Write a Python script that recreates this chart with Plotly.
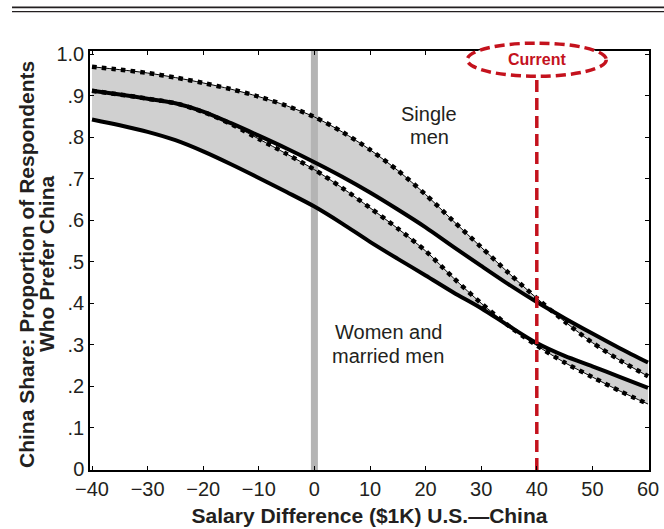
import plotly.graph_objects as go

# ---- data ----
salary_diff = [-40, -35, -30, -25, -20, -15, -10, -5, 0, 5, 10, 15, 20, 25, 30, 35, 40, 45, 50, 55, 60]
single_upper = [0.970, 0.963, 0.955, 0.944, 0.931, 0.916, 0.898, 0.876, 0.849, 0.813, 0.770, 0.720, 0.662, 0.598, 0.535, 0.472, 0.412, 0.356, 0.305, 0.262, 0.224]
single_lower = [0.912, 0.903, 0.893, 0.882, 0.862, 0.834, 0.804, 0.773, 0.740, 0.705, 0.667, 0.626, 0.583, 0.536, 0.490, 0.445, 0.403, 0.364, 0.327, 0.291, 0.257]
women_upper = [0.912, 0.903, 0.893, 0.882, 0.861, 0.832, 0.796, 0.760, 0.722, 0.678, 0.630, 0.580, 0.526, 0.461, 0.400, 0.345, 0.298, 0.257, 0.222, 0.188, 0.157]
women_lower = [0.843, 0.829, 0.813, 0.793, 0.766, 0.735, 0.702, 0.668, 0.633, 0.592, 0.548, 0.507, 0.467, 0.426, 0.388, 0.345, 0.304, 0.273, 0.248, 0.222, 0.196]

x_ticks = [-40, -30, -20, -10, 0, 10, 20, 30, 40, 50, 60]
x_tick_text = ["\u221240", "\u221230", "\u221220", "\u221210", "0", "10", "20", "30", "40", "50", "60"]
y_ticks = [0, 0.1, 0.2, 0.3, 0.4, 0.5, 0.6, 0.7, 0.8, 0.9, 1.0]
y_tick_text = ["0", ".1", ".2", ".3", ".4", ".5", ".6", ".7", ".8", ".9", "1.0"]

parity_x = 0
current_x = 40
current_top = 0.946

X_RANGE = [-40.36, 60.18]
Y_RANGE = [-0.002, 1.008]

FILL = "#d0d0d0"
RED = "#c4121d"
TXT = "#231f20"
SH = "spline"
SM = 0.8

fig = go.Figure()

# fills
fig.add_trace(go.Scatter(x=salary_diff, y=single_lower, mode="lines", line=dict(width=0, shape=SH, smoothing=SM), hoverinfo="skip"))
fig.add_trace(go.Scatter(x=salary_diff, y=single_upper, mode="lines", line=dict(width=0, shape=SH, smoothing=SM), fill="tonexty", fillcolor=FILL, hoverinfo="skip"))
fig.add_trace(go.Scatter(x=salary_diff, y=women_lower, mode="lines", line=dict(width=0, shape=SH, smoothing=SM), hoverinfo="skip"))
fig.add_trace(go.Scatter(x=salary_diff, y=women_upper, mode="lines", line=dict(width=0, shape=SH, smoothing=SM), fill="tonexty", fillcolor=FILL, hoverinfo="skip"))

# grey vertical at zero
fig.add_trace(go.Scatter(x=[parity_x, parity_x], y=Y_RANGE, mode="lines", line=dict(color="#b4b4b4", width=7), hoverinfo="skip"))

# solid lines
for ys in (single_lower, women_lower):
    fig.add_trace(go.Scatter(x=salary_diff, y=ys, mode="lines", line=dict(color="black", width=4, shape=SH, smoothing=SM), hoverinfo="skip"))
# dotted lines
for ys in (single_upper, women_upper):
    fig.add_trace(go.Scatter(x=salary_diff, y=ys, mode="lines", line=dict(color="black", width=1, shape=SH, smoothing=SM), hoverinfo="skip"))
    fig.add_trace(go.Scatter(x=salary_diff, y=ys, mode="lines", line=dict(color="black", width=4.5, dash="4.5px,5.2px", shape=SH, smoothing=SM), hoverinfo="skip"))

# red current line
fig.add_trace(go.Scatter(x=[current_x, current_x], y=[Y_RANGE[0], current_top], mode="lines", line=dict(color=RED, width=3.5, dash="12px,6px"), hoverinfo="skip"))

def px_paper(v):
    return (v - X_RANGE[0]) / (X_RANGE[1] - X_RANGE[0])

def py_paper(v):
    return (v - Y_RANGE[0]) / (Y_RANGE[1] - Y_RANGE[0])

ell_cx, ell_cy, ell_rx, ell_ry = current_x, 0.987, 12.5, 0.040
fig.add_shape(type="circle", xref="paper", yref="paper",
              x0=px_paper(ell_cx - ell_rx), x1=px_paper(ell_cx + ell_rx),
              y0=py_paper(ell_cy - ell_ry), y1=py_paper(ell_cy + ell_ry),
              line=dict(color=RED, width=3.5, dash="10px,5px"), fillcolor="white", layer="above")
fig.add_annotation(x=px_paper(ell_cx), y=py_paper(ell_cy), xref="paper", yref="paper",
                   text="<b>Current</b>", showarrow=False,
                   font=dict(family="Liberation Sans", size=16, color=RED), xanchor="center", yanchor="middle")

# top double rule
fig.add_shape(type="line", xref="paper", yref="paper", x0=-0.1395, x1=1.03, y0=1.1043, y1=1.1043,
              line=dict(color=TXT, width=1.8))
fig.add_shape(type="line", xref="paper", yref="paper", x0=-0.1395, x1=1.03, y0=1.0938, y1=1.0938,
              line=dict(color=TXT, width=1.2))

# text labels
lab_font = dict(family="Liberation Sans", size=20, color=TXT)
fig.add_annotation(x=20.7, y=0.855, text="Single", showarrow=False, font=lab_font)
fig.add_annotation(x=20.7, y=0.800, text="men", showarrow=False, font=lab_font)
fig.add_annotation(x=13.3, y=0.331, text="Women and", showarrow=False, font=lab_font)
fig.add_annotation(x=13.3, y=0.273, text="married men", showarrow=False, font=lab_font)

# y-axis title (two lines)
ttl_font = dict(family="Liberation Sans", size=21, color=TXT)
fig.add_annotation(x=-0.1145, y=0.4916, xref="paper", yref="paper", text="<b>China Share: Proportion of Respondents</b>",
                   textangle=-90, showarrow=False, font=ttl_font, xanchor="center", yanchor="middle")
fig.add_annotation(x=-0.0787, y=0.4916, xref="paper", yref="paper", text="<b>Who Prefer China</b>",
                   textangle=-90, showarrow=False, font=ttl_font, xanchor="center", yanchor="middle")

axis_common = dict(showline=True, linecolor="black", linewidth=1.5, mirror="ticks",
                   ticks="inside", ticklen=4, tickcolor="black", tickwidth=1,
                   showgrid=False, zeroline=False, automargin=False,
                   tickfont=dict(family="Liberation Sans", size=20, color=TXT))

fig.update_xaxes(range=X_RANGE, tickvals=x_ticks, ticktext=x_tick_text,
                 title=dict(text="<b>Salary Difference ($1K) U.S.\u2014China</b>", font=ttl_font, standoff=10),
                 **axis_common)
fig.update_yaxes(range=Y_RANGE, tickvals=y_ticks, ticktext=y_tick_text, **axis_common)

fig.update_layout(template="none", width=664, height=529, margin=dict(l=90, r=15, t=51, b=59),
                  plot_bgcolor="white", paper_bgcolor="white", showlegend=False)

fig.write_html("out.html", config={"displayModeBar": False},
               post_script="document.body.style.margin='0px';document.body.style.overflow='hidden';")
